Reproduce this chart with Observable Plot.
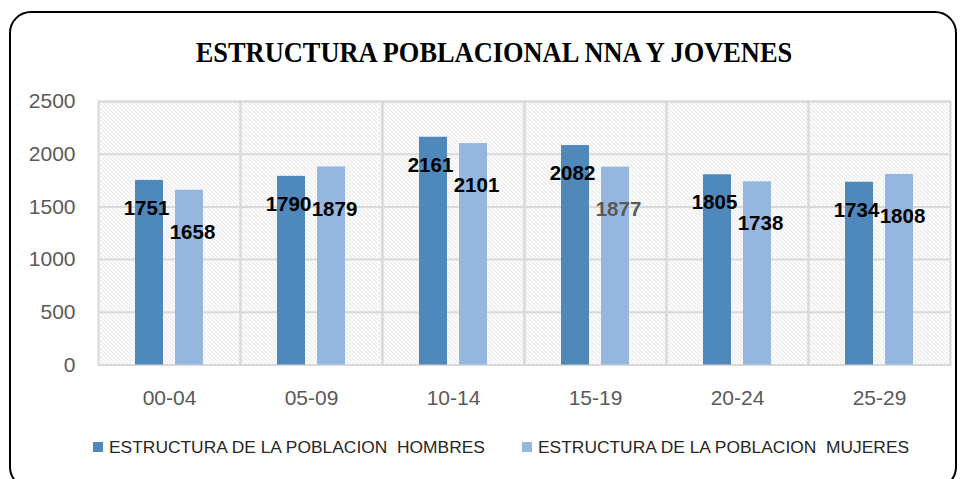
<!DOCTYPE html>
<html><head><meta charset="utf-8">
<script src="https://cdn.jsdelivr.net/npm/d3@7"></script>
<script src="https://cdn.jsdelivr.net/npm/@observablehq/plot@0.6"></script>
<style>
body{margin:0;background:#fff;}
#wrap{position:relative;width:964px;height:479px;overflow:hidden;background:#fff;}
#box{position:absolute;left:9px;top:11px;width:948px;height:478px;border:2px solid #000;border-radius:22px;box-sizing:border-box;}
#title{position:absolute;top:37px;left:24px;width:940px;text-align:center;line-height:1;}
#title span{display:inline-block;font-family:"Liberation Serif",serif;font-weight:bold;font-size:30px;color:#000;transform:scaleX(0.88);transform-origin:center;white-space:nowrap;}
#chart{position:absolute;left:0;top:0;}
#legend{position:absolute;top:436px;left:0;width:964px;font-family:"Liberation Sans",sans-serif;font-size:17.4px;color:#262626;white-space:pre;}
.item{position:absolute;top:0;}
.sw{position:absolute;top:6px;width:10px;height:10px;}
.lt{position:absolute;top:0;line-height:22px;}
</style></head>
<body>
<div id="wrap">
  <div id="box"></div>
  <div id="title"><span></span></div>
  <div id="chart"></div>
  <div id="legend"></div>
</div>
<script>
const grupos = ["00-04","05-09","10-14","15-19","20-24","25-29"];
const hombres = [1751,1790,2161,2082,1805,1734];
const mujeres = [1658,1879,2101,1877,1738,1808];
const series = ["ESTRUCTURA DE LA POBLACION  HOMBRES","ESTRUCTURA DE LA POBLACION  MUJERES"];
const yTicks = [0,500,1000,1500,2000,2500];
const titulo = "ESTRUCTURA POBLACIONAL NNA Y JOVENES";

const colors = ["#4f88bb","#95b6de"];

const data = [];
grupos.forEach((g,i)=>{
  data.push({grupo:g, serie:series[0], valor:hombres[i]});
  data.push({grupo:g, serie:series[1], valor:mujeres[i]});
});

document.querySelector("#title span").textContent = titulo;

const plot = Plot.plot({
  width: 964,
  height: 420,
  marginLeft: 98,
  marginRight: 14,
  marginTop: 101,
  marginBottom: 55.5,
  style: {fontFamily: "'Liberation Sans', sans-serif", fontSize: "21px", color: "#595959", background: "transparent"},
  fx: {domain: grupos, padding: 0, label: null},
  x: {domain: series, paddingInner: 0.3, paddingOuter: 0.925, axis: null},
  y: {domain: [0, 2500], label: null},
  color: {domain: series, range: colors},
  marks: [
    Plot.frame({fill: "url(#hatch)", stroke: "none"}),
    Plot.gridY(yTicks, {stroke: "#d9d9d9", strokeOpacity: 1, strokeWidth: 2}),
    Plot.frame({stroke: "#d9d9d9", strokeWidth: 2}),
    Plot.axisY(yTicks, {tickSize: 0, tickPadding: 23, label: null, fill: "#595959", fontSize: 21, tickFormat: d => String(d)}),
    Plot.axisFx({anchor: "bottom", tickSize: 0, tickPadding: 25, label: null, fill: "#595959", fontSize: 21}),
    Plot.barY(data, {fx: "grupo", x: "serie", y: "valor", fill: "serie"}),
    Plot.text(data.filter(d => d.serie === series[0]), {
      fx: "grupo", x: "serie", y: "valor", text: d => String(d.valor),
      dy: 28, dx: -3, fontWeight: "bold", fontSize: 20.5, fill: "#000"
    }),
    Plot.text(data.filter(d => d.serie === series[1]), {
      fx: "grupo", x: "serie", y: "valor", text: d => String(d.valor),
      dy: 42, dx: 3, fontWeight: "bold", fontSize: 20.5,
      fill: d => d.grupo === "15-19" ? "#595959" : "#000"
    })
  ]
});

const defs = d3.select(plot).insert("defs", ":first-child");
const pat = defs.append("pattern").attr("id","hatch").attr("patternUnits","userSpaceOnUse")
  .attr("width",4).attr("height",4);
pat.append("rect").attr("width",4).attr("height",4).attr("fill","#fff");
pat.append("path").attr("d","M0,0 L4,4 M-1,3 L1,5 M3,-1 L5,1").attr("stroke","#cccccc").attr("stroke-width",0.75);

document.getElementById("chart").appendChild(plot);

const legend = document.getElementById("legend");
const legendX = [93, 522];
series.forEach((s,i)=>{
  const item = document.createElement("div");
  item.className = "item";
  item.style.left = legendX[i] + "px";
  const sw = document.createElement("div");
  sw.className = "sw"; sw.style.left = "0px"; sw.style.background = colors[i];
  const lt = document.createElement("div");
  lt.className = "lt"; lt.style.left = "16px"; lt.textContent = s;
  item.appendChild(sw); item.appendChild(lt);
  legend.appendChild(item);
});
</script>
</body></html>
